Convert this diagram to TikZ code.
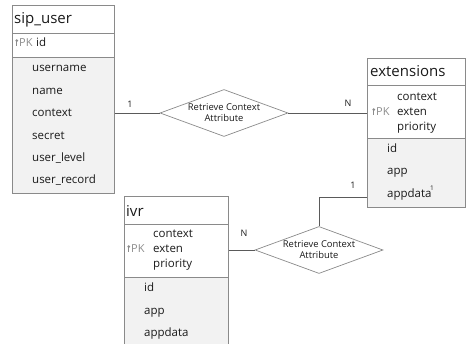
\documentclass[tikz,border=0pt]{standalone}
\usepackage{fontspec}
\setmainfont{Open Sans}
\usetikzlibrary{shapes.geometric}
\definecolor{edge}{HTML}{8A8A8A}
\definecolor{fieldbg}{HTML}{F2F2F2}
\definecolor{pkgray}{HTML}{8C8C8C}
\definecolor{link}{HTML}{5A5A5A}
\definecolor{ink}{HTML}{1A1A1A}
\begin{document}
\begin{tikzpicture}[x=1pt,y=-1pt,
  tablebox/.style={draw=edge,line width=0.8pt,anchor=north west,inner sep=0},
  divider/.style={draw=edge,line width=0.8pt},
  titletext/.style={anchor=base west,inner sep=0,text=ink,font=\fontsize{15}{15}\selectfont},
  fieldtext/.style={anchor=base west,inner sep=0,text=ink,font=\fontsize{11.5}{11.5}\selectfont},
  pktag/.style={anchor=base west,inner sep=0,text=pkgray,font=\fontsize{11}{11}\selectfont},
  pkkey/.style={fill=pkgray},
  relshape/.style={shape=diamond,draw=edge,line width=0.7pt,inner sep=0,minimum width=128,minimum height=47},
  reltext/.style={inner sep=0,align=center,text=ink,font=\fontsize{9.4}{11}\selectfont},
  cardinality/.style={inner sep=0,text=ink,font=\fontsize{9}{9}\selectfont},
  linkline/.style={draw=link,line width=0.8pt}]
\useasboundingbox (0,0) rectangle (466,344);
\clip (0,0) rectangle (466,344);

% ---- table sip_user ----
\fill[fieldbg] (12,57) rectangle (114,193);
\node[tablebox,minimum width=102,minimum height=188] (sip) at (12,5) {};
\draw[divider] (12,33) -- (114,33);
\draw[divider] (12,57) -- (114,57);
\node[titletext] (siptitle) at (14,24) {sip\_user};
\node[pktag] (sippk) at (19,47) {PK};
\fill[pkkey] ([xshift=-2.2pt,yshift=2.4pt]sippk.west) circle (1.5pt);
\fill[pkkey] ([xshift=-2.7pt,yshift=2.2pt]sippk.west) rectangle ([xshift=-1.7pt,yshift=-3.2pt]sippk.west);
\node[fieldtext] (sipid) at (36,47) {id};
\node[fieldtext] (sipf1) at (32,72) {username};
\node[fieldtext] (sipf2) at (32,94.4) {name};
\node[fieldtext] (sipf3) at (32,116.8) {context};
\node[fieldtext] (sipf4) at (32,139.2) {secret};
\node[fieldtext] (sipf5) at (32,161.6) {user\_level};
\node[fieldtext] (sipf6) at (32,184) {user\_record};

% ---- table extensions ----
\fill[fieldbg] (367,138) rectangle (465,207);
\node[tablebox,minimum width=98,minimum height=149] (ext) at (367,58) {};
\draw[divider] (367,85) -- (465,85);
\draw[divider] (367,138) -- (465,138);
\node[titletext] (exttitle) at (370,77) {extensions};
\node[pktag] (extpk) at (376,116) {PK};
\fill[pkkey] ([xshift=-2.2pt,yshift=2.4pt]extpk.west) circle (1.5pt);
\fill[pkkey] ([xshift=-2.7pt,yshift=2.2pt]extpk.west) rectangle ([xshift=-1.7pt,yshift=-3.2pt]extpk.west);
\node[fieldtext] (extk1) at (397,101) {context};
\node[fieldtext] (extk2) at (397,116) {exten};
\node[fieldtext] (extk3) at (397,131) {priority};
\node[fieldtext] (extid) at (387,152.4) {id};
\node[fieldtext] (extapp) at (387,174.8) {app};
\node[fieldtext] (extappdata) at (387,197.2) {appdata};
\node[cardinality,anchor=base west,font=\fontsize{6.5}{6.5}\selectfont] (extsup) at (430,191) {1};

% ---- table ivr ----
\fill[fieldbg] (124,277) rectangle (228,356);
\node[tablebox,minimum width=104,minimum height=160] (ivr) at (124,196) {};
\draw[divider] (124,224) -- (228,224);
\draw[divider] (124,277) -- (228,277);
\node[titletext] (ivrtitle) at (126,217) {ivr};
\node[pktag] (ivrpk) at (131,253) {PK};
\fill[pkkey] ([xshift=-2.2pt,yshift=2.4pt]ivrpk.west) circle (1.5pt);
\fill[pkkey] ([xshift=-2.7pt,yshift=2.2pt]ivrpk.west) rectangle ([xshift=-1.7pt,yshift=-3.2pt]ivrpk.west);
\node[fieldtext] (ivrk1) at (153,238) {context};
\node[fieldtext] (ivrk2) at (153,253) {exten};
\node[fieldtext] (ivrk3) at (153,268) {priority};
\node[fieldtext] (ivrid) at (144,292) {id};
\node[fieldtext] (ivrapp) at (144,314.5) {app};
\node[fieldtext] (ivrappdata) at (144,337) {appdata};

% ---- relationships ----
\node[relshape] (d1) at (224,113) {};
\node[reltext] (d1t) at (d1.center) {Retrieve Context\\Attribute};
\node[relshape] (d2) at (319,250) {};
\node[reltext] (d2t) at (d2.center) {Retrieve Context\\Attribute};

\draw[linkline] (d1.west -| sip.east) -- (d1.west);
\draw[linkline] (d1.east) -- (d1.east -| ext.west);
\draw[linkline] (extappdata.base -| ext.west) -| (d2.north);
\draw[linkline] (d2.west) -- (d2.west -| ivr.east);

\node[cardinality] (c1) at (130,104) {1};
\node[cardinality] (c2) at (348,103) {N};
\node[cardinality] (c3) at (353,185) {1};
\node[cardinality] (c4) at (244,233) {N};
\end{tikzpicture}
\end{document}
